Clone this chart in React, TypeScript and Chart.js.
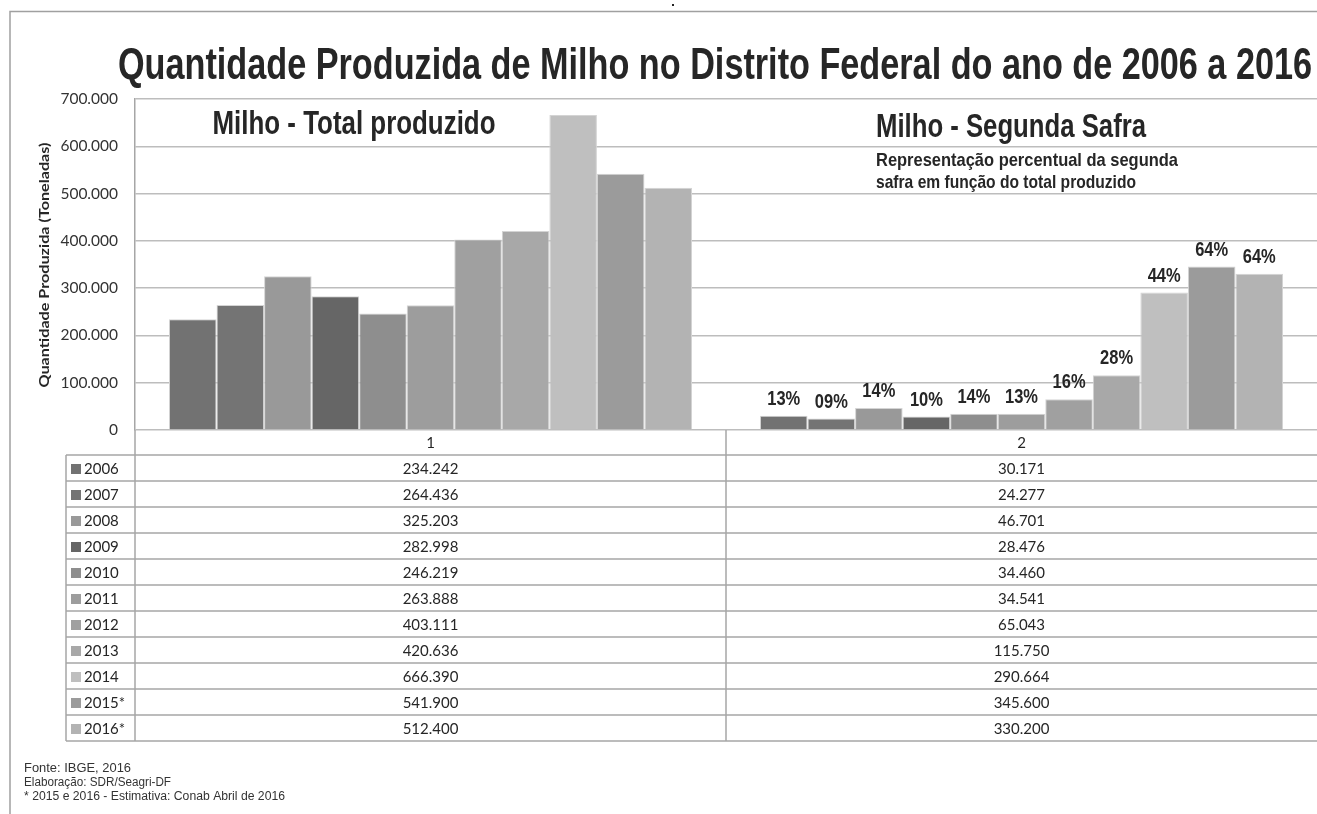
import React, { useEffect, useRef } from "react";
import { Chart, registerables } from "chart.js";

Chart.register(...registerables);

// ---------- data ----------
const categories = ["1", "2"];
const years = ["2006", "2007", "2008", "2009", "2010", "2011", "2012", "2013", "2014", "2015*", "2016*"];
const totalProduced = [234242, 264436, 325203, 282998, 246219, 263888, 403111, 420636, 666390, 541900, 512400];
const secondHarvest = [30171, 24277, 46701, 28476, 34460, 34541, 65043, 115750, 290664, 345600, 330200];
const secondSharePct = ["13%", "09%", "14%", "10%", "14%", "13%", "16%", "28%", "44%", "64%", "64%"];
const yMin = 0;
const yMax = 700000;
const yStep = 100000;

const mainTitle = "Quantidade Produzida de Milho no Distrito Federal do ano de 2006 a 2016";
const leftSubtitle = "Milho - Total produzido";
const rightSubtitle = "Milho - Segunda Safra";
const noteLines = ["Representação percentual da segunda", "safra em função do total produzido"];
const yTitle = "Quantidade Produzida (Toneladas)";
const footerLines = ["Fonte: IBGE, 2016", "Elaboração: SDR/Seagri-DF", "* 2015 e 2016 - Estimativa: Conab Abril de 2016"];

// ---------- styles ----------
const barColors = ["#727272", "#747474", "#999999", "#666666", "#8e8e8e", "#9d9d9d", "#a0a0a0", "#a8a8a8", "#bfbfbf", "#9b9b9b", "#b3b3b3"];
const footerWidths = [107, 147, 261];
const NARROW = "'Liberation Sans Narrow', 'Arial Narrow', 'Liberation Sans', Arial, sans-serif";
const BODY = "Lato, 'Open Sans', sans-serif";
const W = 1317;
const H = 814;

function fmt(n: number): string {
  return String(Math.round(n)).replace(/\B(?=(\d{3})+(?!\d))/g, ".");
}

function fitText(ctx: CanvasRenderingContext2D, text: string, x: number, y: number, font: string, align: CanvasTextAlign, width?: number) {
  ctx.save();
  ctx.font = font;
  ctx.textAlign = align;
  ctx.textBaseline = "alphabetic";
  const w = ctx.measureText(text).width;
  const s = width ? width / w : 1;
  ctx.translate(x, y);
  ctx.scale(s, 1);
  ctx.fillText(text, 0, 0);
  ctx.restore();
}

const decorPlugin = {
  id: "decor",
  beforeDraw(chart: any) {
    const ctx = chart.ctx as CanvasRenderingContext2D;
    ctx.save();
    ctx.fillStyle = "#ffffff";
    ctx.fillRect(0, 0, chart.width, chart.height);
    ctx.strokeStyle = "#a0a0a0";
    ctx.lineWidth = 1.5;
    ctx.beginPath();
    ctx.moveTo(10, H);
    ctx.lineTo(10, 11.5);
    ctx.lineTo(W, 11.5);
    ctx.stroke();
    ctx.fillStyle = "#222";
    ctx.fillRect(672, 4, 2, 2);
    ctx.restore();
  },
  afterDatasetsDraw(chart: any) {
    const ctx = chart.ctx as CanvasRenderingContext2D;
    ctx.save();
    ctx.fillStyle = "#262626";
    chart.data.datasets.forEach((_: any, i: number) => {
      const meta = chart.getDatasetMeta(i);
      const bar = meta.data[1];
      if (!bar) return;
      fitText(ctx, secondSharePct[i], bar.x, bar.y - 11, `bold 20px ${NARROW}`, "center", 33);
    });
    ctx.restore();
  },
  afterDraw(chart: any) {
    const ctx = chart.ctx as CanvasRenderingContext2D;
    const area = chart.chartArea;
    const xs = chart.scales.x;
    ctx.save();
    ctx.fillStyle = "#262626";
    fitText(ctx, mainTitle, 715, 79, `bold 45px ${NARROW}`, "center", 1194);
    fitText(ctx, leftSubtitle, 354, 134, `bold 33px ${NARROW}`, "center", 283);
    fitText(ctx, rightSubtitle, 1011, 137, `bold 33px ${NARROW}`, "center", 270);
    fitText(ctx, noteLines[0], 876, 166, `bold 19px ${NARROW}`, "left", 302);
    fitText(ctx, noteLines[1], 876, 188, `bold 19px ${NARROW}`, "left", 260);

    ctx.save();
    ctx.translate(49, 265);
    ctx.rotate(-Math.PI / 2);
    fitText(ctx, yTitle, 0, 0, `bold 13.5px ${BODY}`, "center", 245);
    ctx.restore();

    // data table
    const headerTop = area.bottom;
    const headerH = 25;
    const rowH = 26;
    const keyLeft = 66;
    const c0 = xs.getPixelForValue(0);
    const c1 = xs.getPixelForValue(1);
    const mid = (c0 + c1) / 2;
    const tableBottom = headerTop + headerH + rowH * years.length;

    ctx.strokeStyle = "#a6a6a6";
    ctx.lineWidth = 1.5;
    ctx.beginPath();
    for (let r = 0; r <= years.length; r++) {
      const y = headerTop + headerH + r * rowH;
      ctx.moveTo(keyLeft, y);
      ctx.lineTo(W, y);
    }
    ctx.moveTo(keyLeft, headerTop + headerH);
    ctx.lineTo(keyLeft, tableBottom);
    ctx.moveTo(area.left, headerTop);
    ctx.lineTo(area.left, tableBottom);
    ctx.moveTo(mid, headerTop);
    ctx.lineTo(mid, tableBottom);
    ctx.stroke();

    ctx.fillStyle = "#262626";
    ctx.font = `15px ${BODY}`;
    ctx.textBaseline = "middle";
    ctx.textAlign = "center";
    categories.forEach((c, i) => {
      ctx.fillText(c, xs.getPixelForValue(i), headerTop + headerH / 2 + 1);
    });
    years.forEach((yr, r) => {
      const cy = headerTop + headerH + r * rowH + rowH / 2 + 1;
      ctx.fillStyle = barColors[r];
      ctx.fillRect(keyLeft + 5, cy - 5, 10, 10);
      ctx.fillStyle = "#262626";
      ctx.textAlign = "left";
      ctx.fillText(yr, keyLeft + 18, cy);
      ctx.textAlign = "center";
      ctx.fillText(fmt(totalProduced[r]), c0, cy);
      ctx.fillText(fmt(secondHarvest[r]), c1, cy);
    });

    ctx.fillStyle = "#333";
    footerLines.forEach((t, i) => {
      fitText(ctx, t, 24, 772 + i * 14, `12.5px ${NARROW}`, "left", footerWidths[i]);
    });
    ctx.restore();
  },
};

export default function App() {
  const ref = useRef<HTMLCanvasElement | null>(null);
  useEffect(() => {
    if (!ref.current) return;
    const chart = new Chart(ref.current, {
      type: "bar",
      data: {
        labels: categories,
        datasets: years.map((yr, i) => ({
          label: yr,
          data: [totalProduced[i], secondHarvest[i]],
          backgroundColor: barColors[i],
          borderColor: "#d4d4d4",
          borderWidth: 1,
          categoryPercentage: 0.885,
          barPercentage: 1,
        })),
      },
      options: {
        animation: false,
        responsive: false,
        maintainAspectRatio: false,
        events: [],
        layout: { padding: { left: 0, top: 99, right: 0, bottom: H - 430 } },
        plugins: { legend: { display: false }, title: { display: false }, tooltip: { enabled: false } },
        scales: {
          x: { display: false },
          y: {
            min: yMin,
            max: yMax,
            afterFit: (s: any) => {
              s.width = 135;
            },
            ticks: {
              stepSize: yStep,
              padding: 17,
              color: "#333",
              font: { family: BODY, size: 15.5 },
              callback: (v: any) => fmt(Number(v)),
            },
            grid: { color: "#bdbdbd", lineWidth: 1.5, drawTicks: false },
            border: { display: true, color: "#a6a6a6", width: 1.5 },
          },
        },
      },
      plugins: [decorPlugin],
    });
    return () => chart.destroy();
  }, []);
  return (
    <div style={{ position: "fixed", left: 0, top: 0, width: W, height: H, background: "#fff" }}>
      <canvas ref={ref} width={W} height={H} style={{ display: "block", width: W, height: H }} />
    </div>
  );
}
